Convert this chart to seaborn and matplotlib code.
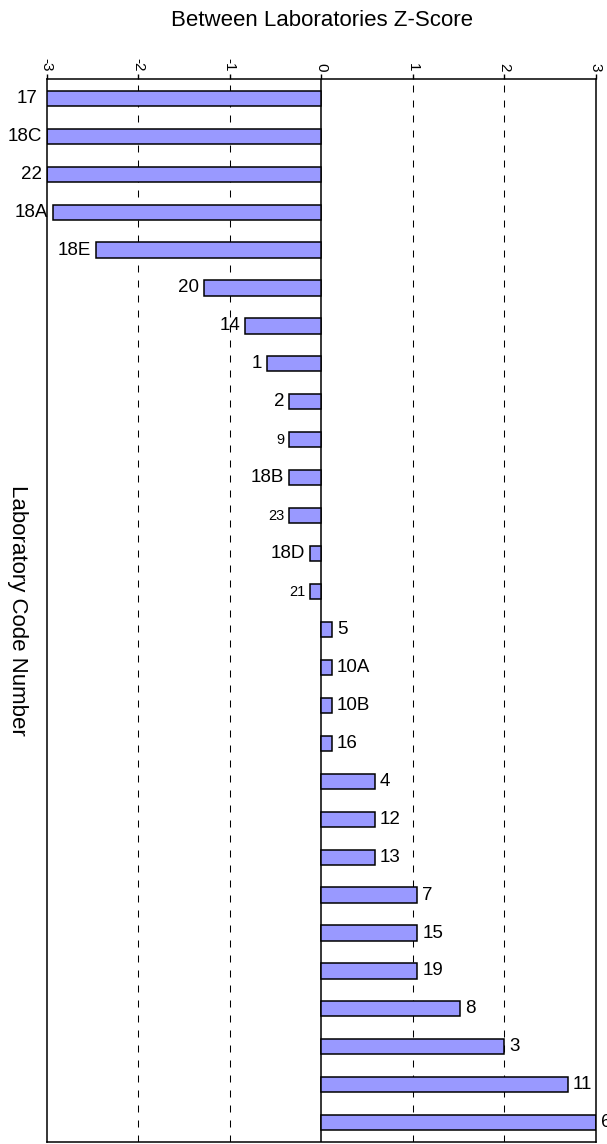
import matplotlib
matplotlib.use('Agg')
import matplotlib.pyplot as plt
import seaborn as sns
import pandas as pd

# ---- data, top to bottom as in the chart ----
lab_codes = ["17", "18C", "22", "18A", "18E", "20", "14", "1", "2", "9",
             "18B", "23", "18D", "21", "5", "10A", "10B", "16", "4", "12",
             "13", "7", "15", "19", "8", "3", "11", "6"]
z_scores = [-3.05, -3.0, -3.0, -2.93, -2.46, -1.28, -0.83, -0.59, -0.35, -0.35,
            -0.35, -0.35, -0.12, -0.12, 0.12, 0.12, 0.12, 0.12, 0.59, 0.59,
            0.59, 1.05, 1.05, 1.05, 1.52, 2.0, 2.7, 3.0]
x_ticks = [-3, -2, -1, 0, 1, 2, 3]
x_tick_labels = ["-3", "-2", "-1", "0", "1", "2", "3"]
grid_lines = [-2, -1, 1, 2]
small_labels = ["9", "23", "21"]

sns.set_style('white')
plt.rcParams['font.family'] = ['Liberation Sans', 'DejaVu Sans']
plt.rcParams['axes.unicode_minus'] = False
plt.rcParams['text.color'] = 'black'
plt.rcParams['axes.labelcolor'] = 'black'

df = pd.DataFrame({'lab': lab_codes, 'z': z_scores})

W, H = 607, 1144
fig = plt.figure(figsize=(W / 100, H / 100), dpi=100)
left, right, top, bottom = 46.7, 595.7, 79.3, 1141.7
ax = fig.add_axes([left / W, 1 - bottom / H, (right - left) / W, (bottom - top) / H])

# dashed reference lines + solid zero line
for g in grid_lines:
    ax.axvline(g, color='black', lw=0.75, linestyle=(0, (6.7, 7.7)), zorder=0)
ax.axvline(0, color='black', lw=1.1, zorder=0.5)

sns.barplot(data=df, x='z', y='lab', orient='h', color='#9999FF',
            saturation=1, edgecolor='black', linewidth=1.1, width=0.4,
            ax=ax, zorder=2)

# lab code labels next to each bar
for i, (lab, z) in enumerate(zip(lab_codes, z_scores)):
    fs = 10.5 if lab in small_labels else 13.5
    if z < 0:
        ax.annotate(lab, (z, i), xytext=(-3.5, 0), textcoords='offset points',
                    ha='right', va='center', fontsize=fs, color='black',
                    annotation_clip=False)
    else:
        ax.annotate(lab, (z, i), xytext=(3.5, 0), textcoords='offset points',
                    ha='left', va='center', fontsize=fs, color='black',
                    annotation_clip=False)

ax.set_xlim(-3, 3)
ax.set_ylim(27.5, -0.5)
ax.set_xticks(x_ticks)
ax.set_xticklabels(x_tick_labels)
ax.xaxis.tick_top()
ax.tick_params(axis='x', top=True, bottom=False, labeltop=True, labelbottom=False,
               rotation=-90, length=3.5, width=1, direction='out', pad=2,
               labelsize=11, colors='black')
ax.tick_params(axis='y', left=False, labelleft=False)
ax.set_xlabel('')
ax.set_ylabel('Laboratory Code Number', rotation=-90, fontsize=16, va='center',
              color='black')
ax.yaxis.set_label_coords((17 - left) / (right - left), 0.5)

for s in ax.spines.values():
    s.set_color('black')
    s.set_linewidth(1.1)

fig.text(321.5 / W, 1 - 25.7 / H, 'Between Laboratories Z-Score',
         ha='center', va='baseline', fontsize=16, color='black')

fig.savefig('out.png', dpi=100)
